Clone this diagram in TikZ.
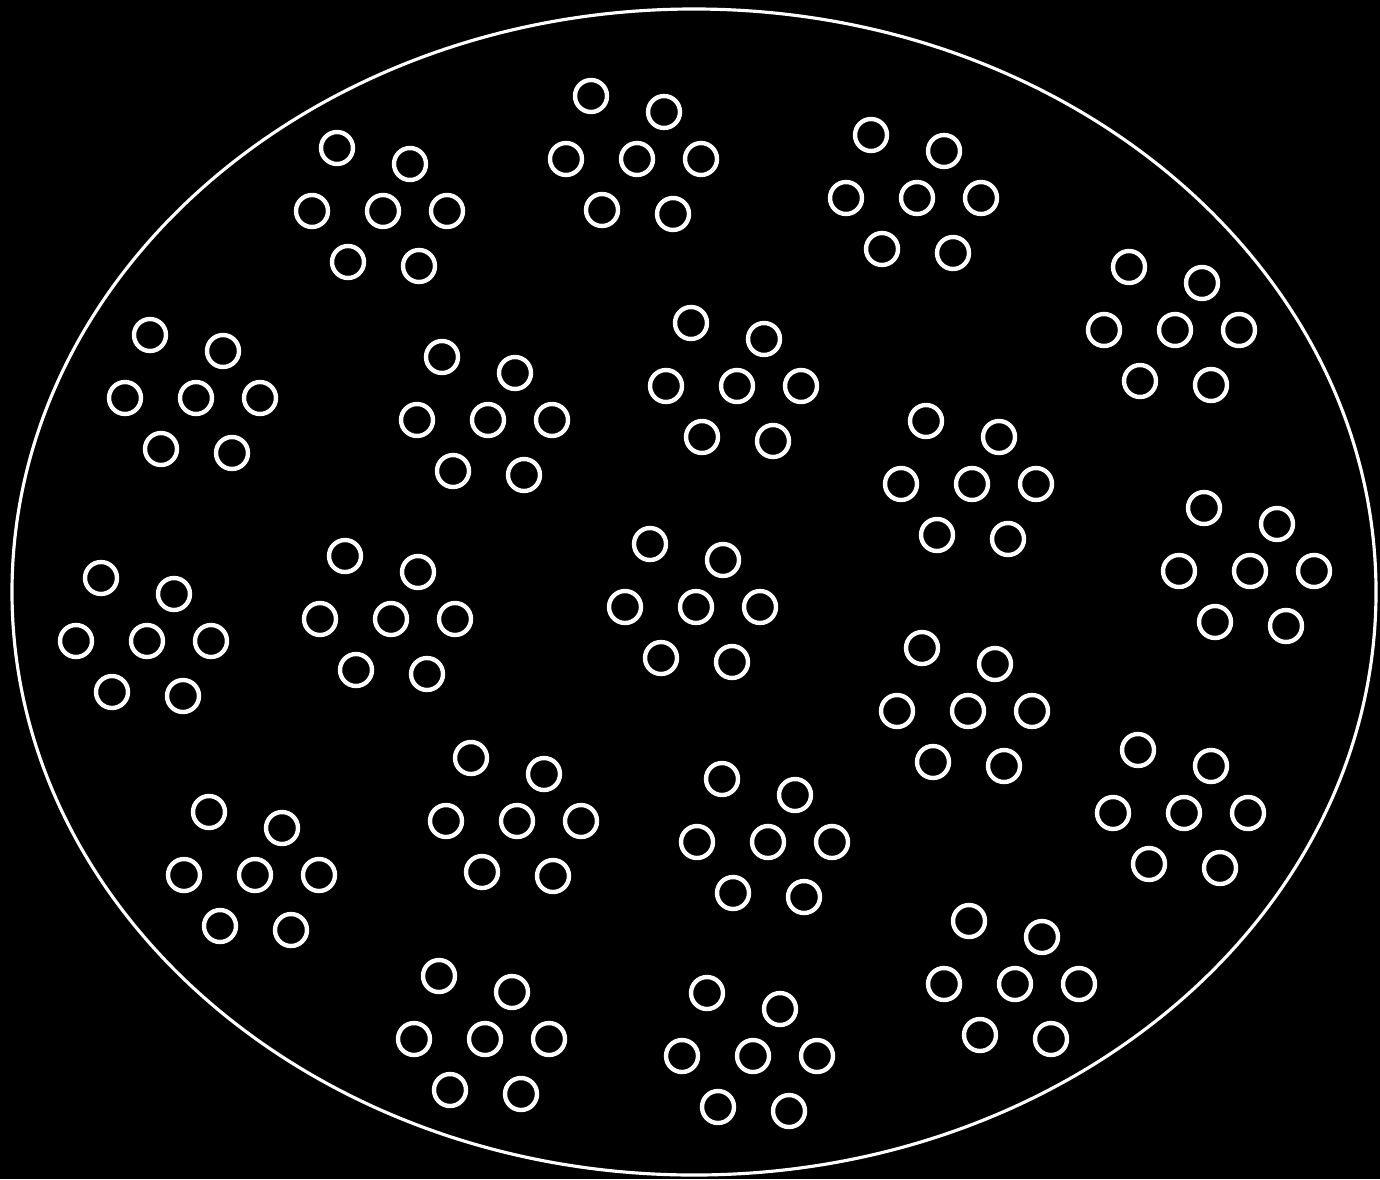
\documentclass[tikz,border=0pt]{standalone}
\usepackage{tikz}

% one group of seven rings around a middle ring
\newcommand{\ringgroup}[2]{%
  \begin{scope}[shift={(#1,#2)}]
    \foreach \dx/\dy in {-46/-63, 27/-47, -71/0, 0/0, 64/0, -35/51, 36/55}
      \draw[ring] (\dx,\dy) circle (16);
  \end{scope}}

\begin{document}
\begin{tikzpicture}[x=0.01cm, y=-0.01cm]
    \tikzset{ring/.style={white, line width=1.25pt}}

    % background and frame
    \fill[black] (0,0) rectangle (1380,1179);
    \useasboundingbox (0,0) rectangle (1380,1179);

    % outer ellipse
    \draw[white, line width=0.9pt] (694,592) ellipse (682 and 583);

    % groups of rings
    \foreach \cx/\cy in {383/211, 637/159, 917/198, 1175/330,
                         196/398, 488/420, 737/386, 972/484, 1250/571,
                         147/641, 391/619, 696/607, 968/711, 1184/813,
                         255/875, 517/821, 768/842, 1015/984,
                         485/1039, 753/1056}
      {\ringgroup{\cx}{\cy}}
\end{tikzpicture}
\end{document}
